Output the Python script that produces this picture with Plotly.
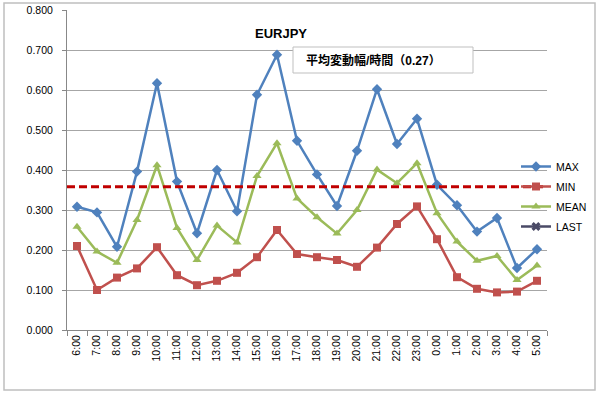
import plotly.graph_objects as go

hours = ["6:00","7:00","8:00","9:00","10:00","11:00","12:00","13:00","14:00","15:00","16:00","17:00",
         "18:00","19:00","20:00","21:00","22:00","23:00","0:00","1:00","2:00","3:00","4:00","5:00"]
max_vals = [0.308,0.294,0.208,0.396,0.617,0.371,0.242,0.400,0.297,0.588,0.688,0.473,
            0.389,0.310,0.448,0.602,0.465,0.528,0.363,0.312,0.246,0.280,0.155,0.202]
min_vals = [0.210,0.100,0.131,0.154,0.207,0.137,0.112,0.123,0.143,0.182,0.250,0.190,
            0.182,0.175,0.158,0.206,0.265,0.309,0.227,0.132,0.103,0.094,0.096,0.123]
mean_vals = [0.258,0.196,0.168,0.275,0.412,0.255,0.175,0.261,0.219,0.385,0.467,0.329,
             0.282,0.241,0.300,0.401,0.367,0.417,0.292,0.221,0.173,0.185,0.125,0.161]
last_vals = [None]*24
avg_line = 0.358
title_text = "EURJPY"
box_text = "平均変動幅/時間（0.27）"

FONT = "Arial, 'Liberation Sans', 'Noto Sans CJK JP', sans-serif"

fig = go.Figure()
fig.add_trace(go.Scatter(x=hours, y=max_vals, name="MAX", mode="lines+markers", legendgroup="a",
                         line=dict(color="#4F81BD", width=2.5),
                         marker=dict(symbol="diamond", size=8, color="#4F81BD")))
fig.add_trace(go.Scatter(x=hours, y=min_vals, name="MIN", mode="lines+markers", legendgroup="b",
                         line=dict(color="#C0504D", width=2.5),
                         marker=dict(symbol="square", size=8, color="#C0504D")))
fig.add_trace(go.Scatter(x=hours, y=mean_vals, name="MEAN", mode="lines+markers", legendgroup="c",
                         line=dict(color="#9BBB59", width=2.5),
                         marker=dict(symbol="triangle-up", size=8, color="#9BBB59")))
fig.add_trace(go.Scatter(x=hours, y=last_vals, name="LAST", mode="lines+markers", legendgroup="d",
                         line=dict(color="#4A4A66", width=2.5),
                         marker=dict(symbol="x", size=8, color="#4A4A66")))

fig.add_shape(type="line", xref="paper", yref="y", x0=0, x1=1, y0=avg_line, y1=avg_line,
              line=dict(color="#C00000", width=3, dash="8px,4px"), layer="above")

def px(x):
    return (x - 67) / 480

def py(y):
    return (330 - y) / 320

# outer chart border
fig.add_shape(type="rect", xref="paper", yref="paper",
              x0=px(4), x1=px(595), y0=py(390), y1=py(3),
              line=dict(color="#BFBFBF", width=1.5), layer="below")

fig.add_annotation(text="<b>"+title_text+"</b>", xref="paper", yref="paper",
                   x=px(281), y=py(33), xanchor="center", yanchor="middle", showarrow=False,
                   font=dict(size=13, color="#000000", family=FONT))

# text box
fig.add_shape(type="rect", xref="paper", yref="paper",
              x0=px(293), x1=px(473), y0=py(73), y1=py(47),
              line=dict(color="#BFBFBF", width=1), fillcolor="white", layer="above")
fig.add_annotation(text="<b>"+box_text+"</b>", xref="paper", yref="paper",
                   x=px(305), y=py(60), xanchor="left", yanchor="middle",
                   showarrow=False, borderpad=0,
                   font=dict(size=12, color="#000000", family=FONT))

fig.update_layout(
    width=600, height=395,
    margin=dict(l=67, r=53, t=10, b=65, autoexpand=False),
    paper_bgcolor="white", plot_bgcolor="white",
    font=dict(family=FONT, size=11, color="#000000"),
    showlegend=True,
    legend=dict(x=px(516), y=py(152), xanchor="left", yanchor="top",
                bgcolor="rgba(0,0,0,0)", font=dict(size=10.5), itemwidth=30,
                tracegroupgap=1),
)
fig.update_xaxes(type="category", range=[-0.5, 23.5], tickangle=-90, ticks="outside",
                 tickson="boundaries", ticklen=5, tickcolor="#888888", showline=True,
                 linecolor="#888888", showgrid=False, tickfont=dict(size=10.5), automargin=False)
fig.update_yaxes(range=[0, 0.8], dtick=0.1, tickformat=".3f", ticks="outside", ticklen=4,
                 tickcolor="#888888", showline=True, linecolor="#888888",
                 showgrid=True, gridcolor="#A6A6A6", gridwidth=1, zeroline=False,
                 tickfont=dict(size=10.5), ticklabelstandoff=7, automargin=False)

fig.write_html("out.html", config={"displayModeBar": False},
               post_script="document.body.style.margin='0';")
